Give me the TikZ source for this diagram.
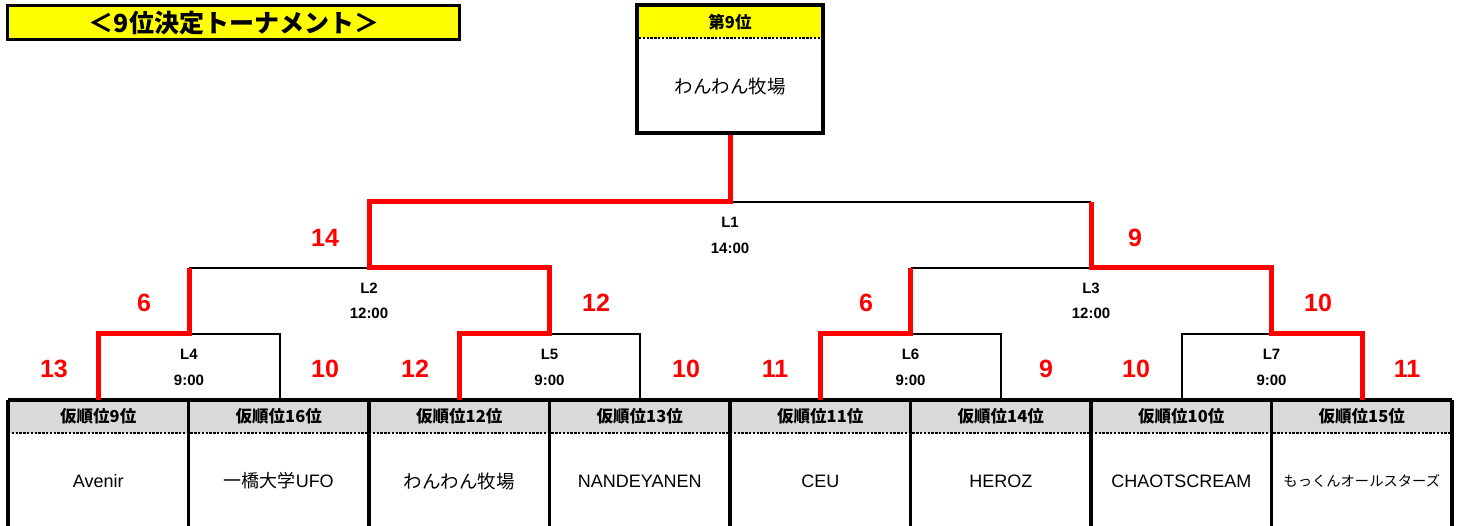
\documentclass[tikz,border=0pt]{standalone}
\usepackage{fontspec}
\setmainfont{Liberation Sans}
\newfontfamily\jp{Noto Sans CJK JP}
\definecolor{hdyellow}{HTML}{FFFF00}
\definecolor{hdgray}{HTML}{D9D9D9}
\definecolor{winred}{HTML}{FF0000}
\begin{document}
\begin{tikzpicture}[x=1pt,y=-1pt,
  frame/.style={line width=3.5pt, black},
  dotline/.style={line width=2.4pt, dash pattern=on 2.4pt off 1.4pt, black},
  loseline/.style={line width=2pt, black},
  winline/.style={line width=5pt, winred, line join=miter},
  hdtext/.style={font=\jp\bfseries\fontsize{16.5}{16.5}\selectfont, inner sep=0pt},
  nmtext/.style={font=\fontsize{18}{18}\selectfont, inner sep=0pt},
  jpname/.style={font=\jp\fontsize{18.5}{18.5}\selectfont, inner sep=0pt},
  mlabel/.style={font=\bfseries\fontsize{15}{15}\selectfont, inner sep=0pt},
  score/.style={font=\bfseries\fontsize{25}{25}\selectfont, text=winred, inner sep=0pt}
]
\useasboundingbox (0,0) rectangle (1461,526);
\clip (0,0) rectangle (1461,526);

% title
\node[draw, frame, fill=hdyellow, minimum width=452pt, minimum height=34pt, inner sep=0pt] (title) at (233.5,22.5) {};
\node[font=\jp\bfseries\fontsize{25}{25}\selectfont, inner sep=0pt] (titletext) at (234,23) {＜9位決定トーナメント＞};

% champion box
\fill[hdyellow] (637,5) rectangle (823,38);
\node[draw, frame, minimum width=186pt, minimum height=128pt, inner sep=0pt] (champ) at (730,69) {};
\draw[dotline] (639,38) -- (821,38);
\node[hdtext] (champhd) at (730,22) {第9位};
\node[jpname] (champnm) at (730,87) {わんわん牧場};

% bottom boxes
\fill[hdgray] (8,400) rectangle (1452,433);
\draw[dotline] (8,433) -- (1452,433);
\draw[frame] (8,400) -- (1452,400);
\foreach \x in {8,188.5,369,549.5,730,910.5,1091,1271.5,1452}{
  \draw[frame] (\x,400) -- (\x,530);
}
\node[hdtext] (h1) at (98.25,416.5) {仮順位9位};
\node[hdtext] (h2) at (278.75,416.5) {仮順位16位};
\node[hdtext] (h3) at (459.25,416.5) {仮順位12位};
\node[hdtext] (h4) at (639.75,416.5) {仮順位13位};
\node[hdtext] (h5) at (820.25,416.5) {仮順位11位};
\node[hdtext] (h6) at (1000.75,416.5) {仮順位14位};
\node[hdtext] (h7) at (1181.25,416.5) {仮順位10位};
\node[hdtext] (h8) at (1361.75,416.5) {仮順位15位};
\node[nmtext] (n1) at (98.25,481) {Avenir};
\node[nmtext] (n2) at (278.75,481) {{\jp 一橋大学}UFO};
\node[jpname] (n3) at (459.25,481) {わんわん牧場};
\node[nmtext] (n4) at (639.75,481) {NANDEYANEN};
\node[nmtext] (n5) at (820.25,481) {CEU};
\node[nmtext] (n6) at (1000.75,481) {HEROZ};
\node[nmtext] (n7) at (1181.25,481) {CHAOTSCREAM};
\node[font=\jp\fontsize{14.3}{14.3}\selectfont, inner sep=0pt] (n8) at (1361.75,481) {もっくんオールスターズ};

% bracket coordinates
\coordinate (t1) at (98.25,400);  \coordinate (t2) at (279.5,400);
\coordinate (t3) at (459.25,400); \coordinate (t4) at (640,400);
\coordinate (t5) at (820.5,400);  \coordinate (t6) at (1001,400);
\coordinate (t7) at (1182,400);   \coordinate (t8) at (1362,400);
\coordinate (m4) at (189,334);  \coordinate (m5) at (549.5,334);
\coordinate (m6) at (910.5,334); \coordinate (m7) at (1271.5,334);
\coordinate (m2) at (369,268);  \coordinate (m3) at (1091,268);
\coordinate (m1) at (730,202);

% losing (black) lines
\draw[loseline] (m4) -- (t2 |- m4) -- (t2);
\draw[loseline] (m5) -- (t4 |- m5) -- (t4);
\draw[loseline] (m6) -- (t6 |- m6) -- (t6);
\draw[loseline] (t7) -- (t7 |- m7) -- (m7);
\draw[loseline] (m4 |- m2) -- (m2);
\draw[loseline] (m6 |- m3) -- (m3);
\draw[loseline] (m1) -- (m3 |- m1);

% winning (red) lines
\draw[winline] (t1) -- (t1 |- m4) -- (m4) -- (m4 |- m2);
\draw[winline] (t3) -- (t3 |- m5) -- (m5) -- (m5 |- m2) -- (m2) -- (m2 |- m1) -- (m1) -- (champ.south);
\draw[winline] (t5) -- (t5 |- m6) -- (m6) -- (m6 |- m3);
\draw[winline] (t8) -- (t8 |- m7) -- (m7) -- (m7 |- m3) -- (m3) -- (m3 |- m1);

% match labels
\node[mlabel] (l1a) at (730,222) {L1};   \node[mlabel] (l1b) at (730,248) {14:00};
\node[mlabel] (l2a) at (369,288) {L2};   \node[mlabel] (l2b) at (369,313) {12:00};
\node[mlabel] (l3a) at (1091,288) {L3};  \node[mlabel] (l3b) at (1091,313) {12:00};
\node[mlabel] (l4a) at (189,354) {L4};   \node[mlabel] (l4b) at (189,380) {9:00};
\node[mlabel] (l5a) at (549.5,354) {L5}; \node[mlabel] (l5b) at (549.5,380) {9:00};
\node[mlabel] (l6a) at (910.5,354) {L6}; \node[mlabel] (l6b) at (910.5,380) {9:00};
\node[mlabel] (l7a) at (1271.5,354) {L7};\node[mlabel] (l7b) at (1271.5,380) {9:00};

% scores
\node[score] (s1) at (54,369) {13};
\node[score] (s2) at (325,369) {10};
\node[score] (s3) at (415,369) {12};
\node[score] (s4) at (686,369) {10};
\node[score] (s5) at (775,369) {11};
\node[score] (s6) at (1046,369) {9};
\node[score] (s7) at (1136,369) {10};
\node[score] (s8) at (1407,369) {11};
\node[score] (s9) at (144,303) {6};
\node[score] (s10) at (596,303) {12};
\node[score] (s11) at (866,303) {6};
\node[score] (s12) at (1318,303) {10};
\node[score] (s13) at (325,238) {14};
\node[score] (s14) at (1135,238) {9};
\end{tikzpicture}
\end{document}
